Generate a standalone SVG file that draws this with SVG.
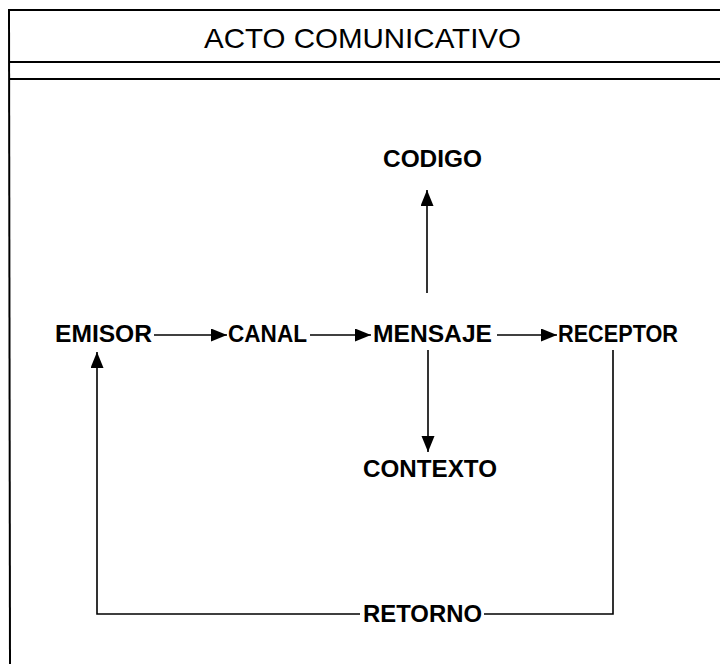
<svg xmlns="http://www.w3.org/2000/svg" width="720" height="664" viewBox="0 0 720 664">
<style>
  .frame { fill: none; stroke: #000; stroke-width: 2; }
  .conn { fill: none; stroke: #000; stroke-width: 1.6; }
  .lbl { font-family: "Liberation Sans", "DejaVu Sans", sans-serif; font-size: 23px; font-weight: bold; fill: #000; }
  .title { font-family: "Liberation Sans", "DejaVu Sans", sans-serif; font-size: 28px; fill: #000; }
</style>
<defs>
  <marker id="ah" markerUnits="userSpaceOnUse" markerWidth="18" markerHeight="14" refX="16" refY="6.5" orient="auto">
    <path d="M0,0 L16,6.5 L0,13 z" fill="#000"/>
  </marker>
</defs>
<rect width="720" height="664" fill="#fff"/>
<g id="frame">
  <line class="frame" x1="9" y1="10" x2="722" y2="10"/>
  <line class="frame" x1="9" y1="9" x2="10" y2="666"/>
  <line class="frame" x1="9" y1="62" x2="722" y2="62"/>
  <line class="frame" x1="9" y1="79" x2="722" y2="79"/>
</g>
<g id="title">
  <text class="title" x="204" y="48" textLength="317" lengthAdjust="spacingAndGlyphs">ACTO COMUNICATIVO</text>
</g>
<g id="connectors">
  <line class="conn" x1="154" y1="335" x2="227" y2="335" marker-end="url(#ah)"/>
  <line class="conn" x1="310" y1="335" x2="371" y2="335" marker-end="url(#ah)"/>
  <line class="conn" x1="497" y1="335" x2="557" y2="335" marker-end="url(#ah)"/>
  <line class="conn" x1="427" y1="293" x2="427" y2="190" marker-end="url(#ah)"/>
  <line class="conn" x1="428" y1="350" x2="428" y2="452" marker-end="url(#ah)"/>
  <polyline class="conn" points="613,350 613,614 484,614"/>
  <polyline class="conn" points="360,614 97,614 97,352" marker-end="url(#ah)"/>
</g>
<g id="emisor"><text class="lbl" x="55" y="342" textLength="97" lengthAdjust="spacingAndGlyphs">EMISOR</text></g>
<g id="canal"><text class="lbl" x="228" y="342" textLength="79" lengthAdjust="spacingAndGlyphs">CANAL</text></g>
<g id="mensaje"><text class="lbl" x="373" y="342" textLength="119" lengthAdjust="spacingAndGlyphs">MENSAJE</text></g>
<g id="receptor"><text class="lbl" x="558" y="342" textLength="120" lengthAdjust="spacingAndGlyphs">RECEPTOR</text></g>
<g id="codigo"><text class="lbl" x="383" y="167" textLength="99" lengthAdjust="spacingAndGlyphs">CODIGO</text></g>
<g id="contexto"><text class="lbl" x="363" y="477" textLength="134" lengthAdjust="spacingAndGlyphs">CONTEXTO</text></g>
<g id="retorno"><text class="lbl" x="363" y="622" textLength="119" lengthAdjust="spacingAndGlyphs">RETORNO</text></g>
</svg>
